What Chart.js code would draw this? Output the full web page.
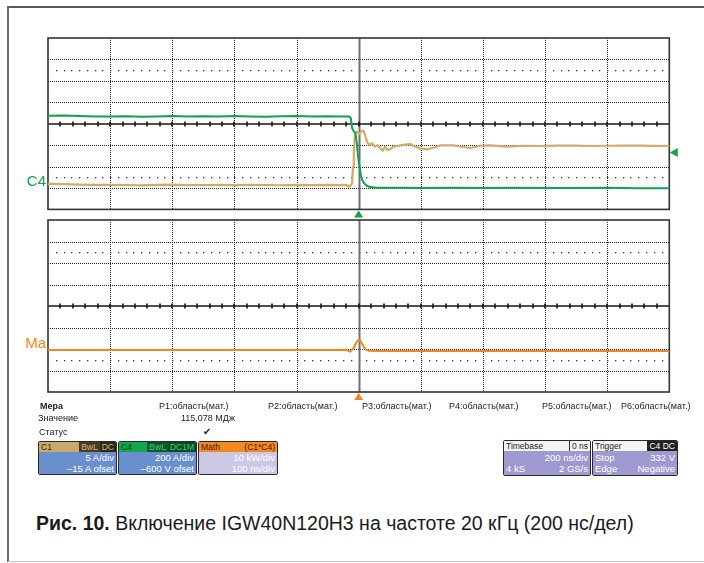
<!DOCTYPE html>
<html><head><meta charset="utf-8">
<script src="https://cdn.jsdelivr.net/npm/chart.js@4"></script>
<style>
html,body{margin:0;padding:0;background:#fff;}
#root{position:relative;width:704px;height:563px;overflow:hidden;font-family:"Liberation Sans",Arial,sans-serif;color:#222;}
.abs{position:absolute;}
.t9{position:absolute;font-size:9px;line-height:11px;white-space:nowrap;color:#222;}
.box{position:absolute;border:1px solid #2a2a2a;border-radius:2px;overflow:hidden;box-sizing:border-box;}
.hdr{display:flex;height:10px;font-size:8.5px;line-height:10px;white-space:nowrap;}
.hl{flex:1;padding-left:2px;}
.hr{padding:0 2px;}
.bd{font-size:9.5px;line-height:11px;color:#fff;padding:0 2px;white-space:nowrap;}
.row{display:flex;justify-content:space-between;}
canvas{position:absolute;left:0;}
</style></head><body>
<div id="root">
  <div class="abs" style="left:8px;top:6px;width:696px;height:2px;background:#5a5a5a"></div>
  <div class="abs" style="left:7px;top:6px;width:2px;height:556px;background:#6a6a6a"></div>
  <div class="abs" style="left:8px;top:561px;width:696px;height:1px;background:#c8c8c8"></div>

  <canvas id="top" width="704" height="200" style="top:20px;width:704px;height:200px"></canvas>
  <canvas id="bot" width="704" height="196" style="top:212px;width:704px;height:196px"></canvas>

  <div class="t9" style="left:40px;top:401px;font-weight:bold">Мера</div>
  <div class="t9" style="left:38px;top:413px">Значение</div>
  <div class="t9" style="left:39px;top:427px">Статус</div>
  <div class="t9" style="left:159px;top:401px">P1:область(мат.)</div>
  <div class="t9" style="left:268px;top:401px">P2:область(мат.)</div>
  <div class="t9" style="left:362px;top:401px">P3:область(мат.)</div>
  <div class="t9" style="left:449px;top:401px">P4:область(мат.)</div>
  <div class="t9" style="left:542px;top:401px">P5:область(мат.)</div>
  <div class="t9" style="left:621px;top:401px">P6:область(мат.)</div>
  <div class="t9" style="left:181px;top:413px">115,078 МДж</div>
  <div class="t9" style="left:203px;top:426px;font-family:'DejaVu Sans';font-size:10px">✔</div>

  <div class="box" style="left:38px;top:441px;width:79px;height:34px">
    <div class="hdr"><span class="hl" style="background:#c9a86b;color:#3a2c14">C1</span><span class="hr" style="background:#4a3b22;color:#d9b877">BwL</span><span class="hr" style="background:#2e2616;color:#d9b877">DC</span></div>
    <div class="bd" style="background:#6a8fcf;height:22px"><div style="text-align:right">5 A/div</div><div style="text-align:right">–15 A ofset</div></div>
  </div>
  <div class="box" style="left:118px;top:441px;width:79px;height:34px">
    <div class="hdr"><span class="hl" style="background:#12a650;color:#0c3a1c">C4</span><span class="hr" style="background:#0f5a2c;color:#37d176">BwL</span><span class="hr" style="background:#0c4a24;color:#37d176">DC1M</span></div>
    <div class="bd" style="background:#6a8fcf;height:22px"><div style="text-align:right">200 A/div</div><div style="text-align:right">–600 V ofset</div></div>
  </div>
  <div class="box" style="left:198px;top:441px;width:80px;height:34px">
    <div class="hdr" style="background:#f4891f;color:#3b1d02"><span class="hl">Math</span><span class="hr">(C1*C4)</span></div>
    <div class="bd" style="background:#cbc8e6;height:22px"><div style="text-align:right">10 kW/div</div><div style="text-align:right">100 ns/div</div></div>
  </div>

  <div class="box" style="left:503px;top:440px;width:88px;height:36px">
    <div class="hdr" style="background:#f4f4f4;color:#222"><span class="hl">Timebase</span><span class="hr" style="border-left:1px solid #333">0 ns</span></div>
    <div class="bd" style="background:#9e99d1;height:24px;padding-top:1px"><div style="text-align:right">200 ns/div</div><div class="row"><span>4 kS</span><span>2 GS/s</span></div></div>
  </div>
  <div class="box" style="left:592px;top:440px;width:86px;height:36px">
    <div class="hdr" style="background:#f4f4f4;color:#222"><span class="hl">Trigger</span><span class="hr" style="background:#222;color:#fff">C4 DC</span></div>
    <div class="bd" style="background:#9e99d1;height:24px;padding-top:1px"><div class="row"><span>Stop</span><span>332 V</span></div><div class="row"><span>Edge</span><span>Negative</span></div></div>
  </div>

  <div class="abs" style="left:36px;top:511px;font-size:20px;line-height:24px;white-space:nowrap;color:#1a1a1a;transform:scaleX(0.975);transform-origin:0 50%"><b>Рис. 10.</b> Включение IGW40N120H3 на частоте 20 кГц (200 нс/дел)</div>
</div>

<script>
// ---- data (time in ns, C1 in A, C4 in V, Math in kW) ----
const c1TimeNs = [-1000,-950,-900,-850,-800,-750,-700,-650,-600,-550,-500,-450,-400,-350,-300,-250,-200,-150,-100,-60,-40,-30,-21,-18,-15.6,-13.4,-10.2,-3.7,2.8,9.2,15.6,22,28.3,34.8,42.5,53,60.7,69,78,85,93,101,112,134,155,166,177,198,220,241,263,305,338,359,391,424,477,531,585,640,692,750,799,850,906,950,1000];
const c1Amps   = [0.95,0.9,0.78,0.72,0.74,0.7,0.62,0.72,0.76,0.68,0.7,0.74,0.66,0.72,0.7,0.64,0.74,0.68,0.72,0.66,0.7,0.3,1.08,4.95,8.09,11.19,12.9,13.13,12.6,13.36,13.36,11.96,10.56,10.02,10.42,9.63,10.02,9.32,8.69,9.63,8.86,9.02,9.63,9.95,10.19,10.26,9.79,9.25,9.02,9.39,9.95,9.95,9.56,9.32,9.86,9.95,9.63,9.86,9.79,9.9,9.86,9.8,9.86,9.9,9.86,9.82,9.79];
const c4TimeNs = [-1000,-950,-900,-850,-800,-750,-700,-650,-600,-550,-500,-450,-400,-350,-300,-250,-200,-150,-100,-60,-30,-25,-21,-14.5,-10.2,-5.9,-1.6,2.8,7.1,11.3,17.7,26.4,37,58.6,100,150,200,300,400,500,600,700,800,900,1000];
const c4Volts  = [675,676,672,668,667,670,666,668,671,667,669,667,671,668,665,669,671,667,669,668,667,650,557,525,510,417,292,198,121,74,43,21,8,2,1,2,0,1,-1,1,0,-1,1,-2,-3];
const mathTimeNs = [-1000,-800,-600,-400,-200,-60,-38,-27.4,-16.7,-5.9,1.6,10.2,21,31.7,60,200,400,600,800,1000];
const mathKW     = [-0.47,-0.45,-0.5,-0.47,-0.48,-0.5,-0.5,-1.26,0.33,3.4,4.51,2.65,-0.16,-0.79,-0.9,-0.93,-0.93,-0.95,-0.93,-0.93];
const triggerLevelV = 332;

const GREEN = '#12a24f', TAN = '#d4aa66', ORANGE = '#f5861f';

function pts(t, v){ return t.map((x,i)=>({x, y:v[i]})); }

const scopeGrid = {
  id: 'scopeGrid',
  beforeDatasetsDraw(chart, args, o) {
    const {ctx, chartArea: a} = chart;
    const xs = chart.scales.x, ys = chart.scales[o.yAxis];
    const xp = [], yp = [];
    for (let v = xs.min; v <= xs.max + 1e-6; v += o.xStep) xp.push(xs.getPixelForValue(v));
    for (let v = ys.min; v <= ys.max + 1e-6; v += o.yStep) yp.push(ys.getPixelForValue(v));
    const xc = xp[(xp.length-1)/2], yc = yp[(yp.length-1)/2];
    const divW = xp[1]-xp[0], divH = Math.abs(yp[1]-yp[0]);
    ctx.save();
    ctx.fillStyle = '#fff';
    ctx.fillRect(a.left, a.top, a.right-a.left, a.bottom-a.top);
    ctx.strokeStyle = '#222'; ctx.lineWidth = 1; ctx.setLineDash([1,1]);
    xp.forEach((p,i)=>{ if(i===0||i===xp.length-1||p===xc) return; const q=Math.round(p)+0.5; ctx.beginPath(); ctx.moveTo(q,a.top); ctx.lineTo(q,a.bottom); ctx.stroke(); });
    yp.forEach((p,i)=>{ if(i===0||i===yp.length-1||p===yc) return; const q=Math.round(p)+0.5; ctx.beginPath(); ctx.moveTo(a.left,q); ctx.lineTo(a.right,q); ctx.stroke(); });
    ctx.setLineDash([]);
    ctx.fillStyle = '#333';
    [yc - 2.5*divH, yc + 2.5*divH].forEach(y=>{
      const q = Math.round(y);
      for (let x = a.left + divW/8; x < a.right - 1; x += divW/8) ctx.fillRect(Math.round(x), q, 1.3, 1.3);
    });
    ctx.strokeStyle = '#707070'; ctx.lineWidth = 2;
    ctx.beginPath(); ctx.moveTo(Math.round(xc)+0.5, a.top); ctx.lineTo(Math.round(xc)+0.5, a.bottom); ctx.stroke();
    ctx.strokeStyle = '#151515'; ctx.lineWidth = 1.5;
    const yq = Math.round(yc);
    ctx.beginPath(); ctx.moveTo(a.left, yq); ctx.lineTo(a.right, yq); ctx.stroke();
    ctx.lineWidth = 1.6;
    for (let x = a.left + divW/5; x < a.right - 2; x += divW/5) {
      ctx.beginPath(); ctx.moveTo(Math.round(x), yq-2.5); ctx.lineTo(Math.round(x), yq+2.5); ctx.stroke();
    }
    ctx.strokeStyle = '#333'; ctx.lineWidth = 1.6;
    ctx.strokeRect(a.left, a.top, a.right-a.left, a.bottom-a.top);
    ctx.restore();
  },
  afterDatasetsDraw(chart, args, o) {
    const {ctx, chartArea: a} = chart;
    const xs = chart.scales.x;
    const x0 = xs.getPixelForValue(0);
    ctx.save();
    ctx.fillStyle = o.markColor;
    ctx.beginPath(); ctx.moveTo(x0, a.bottom+1); ctx.lineTo(x0-4.5, a.bottom+8); ctx.lineTo(x0+4.5, a.bottom+8); ctx.closePath(); ctx.fill();
    const ls = chart.scales[o.labelAxis];
    ctx.fillStyle = o.labelColor; ctx.font = '15px "Liberation Sans", Arial, sans-serif';
    ctx.textAlign = 'right'; ctx.textBaseline = 'alphabetic';
    ctx.fillText(o.label, a.left - 2, ls.getPixelForValue(0) + o.labelDy);
    if (o.levelAxis) {
      const yl = chart.scales[o.levelAxis].getPixelForValue(o.level);
      ctx.fillStyle = GREEN;
      ctx.beginPath(); ctx.moveTo(a.right+0.5, yl); ctx.lineTo(a.right+8.5, yl-4.5); ctx.lineTo(a.right+8.5, yl+4.5); ctx.closePath(); ctx.fill();
    }
    ctx.restore();
  }
};

const common = {
  responsive: false, animation: false, devicePixelRatio: 1,
  events: [],
  plugins: { legend: {display:false}, tooltip: {enabled:false} },
  elements: { point: {radius:0}, line: {tension:0, borderWidth:2, borderJoinStyle:'round', borderCapStyle:'round'} },
};

new Chart(document.getElementById('top'), {
  type: 'line',
  data: { datasets: [
    { data: pts(c4TimeNs, c4Volts), yAxisID: 'yV', borderColor: GREEN, borderWidth: 2 },
    { data: pts(c1TimeNs, c1Amps), yAxisID: 'yA', borderColor: TAN, borderWidth: 2.2 },
  ]},
  options: Object.assign({}, common, {
    layout: { padding: { left: 48, right: 34.7, top: 18, bottom: 10.6 } },
    scales: {
      x: { type: 'linear', min: -1000, max: 1000, display: false },
      yA: { type: 'linear', min: -5, max: 35, display: false },
      yV: { type: 'linear', min: -200, max: 1400, display: false },
    },
    plugins: Object.assign({}, common.plugins, {
      scopeGrid: { yAxis: 'yA', xStep: 200, yStep: 5, markColor: GREEN, label: 'C4', labelAxis: 'yV', labelColor: GREEN, labelDy: -2, levelAxis: 'yV', level: triggerLevelV }
    })
  }),
  plugins: [scopeGrid]
});

new Chart(document.getElementById('bot'), {
  type: 'line',
  data: { datasets: [
    { data: pts(mathTimeNs, mathKW), yAxisID: 'yM', borderColor: ORANGE, borderWidth: 2 },
  ]},
  options: Object.assign({}, common, {
    layout: { padding: { left: 48, right: 34.7, top: 8, bottom: 16 } },
    scales: {
      x: { type: 'linear', min: -1000, max: 1000, display: false },
      yM: { type: 'linear', min: -20, max: 60, display: false },
    },
    plugins: Object.assign({}, common.plugins, {
      scopeGrid: { yAxis: 'yM', xStep: 200, yStep: 10, markColor: ORANGE, label: 'Ma', labelAxis: 'yM', labelColor: ORANGE, labelDy: -1 }
    })
  }),
  plugins: [scopeGrid]
});
</script>
</body></html>
